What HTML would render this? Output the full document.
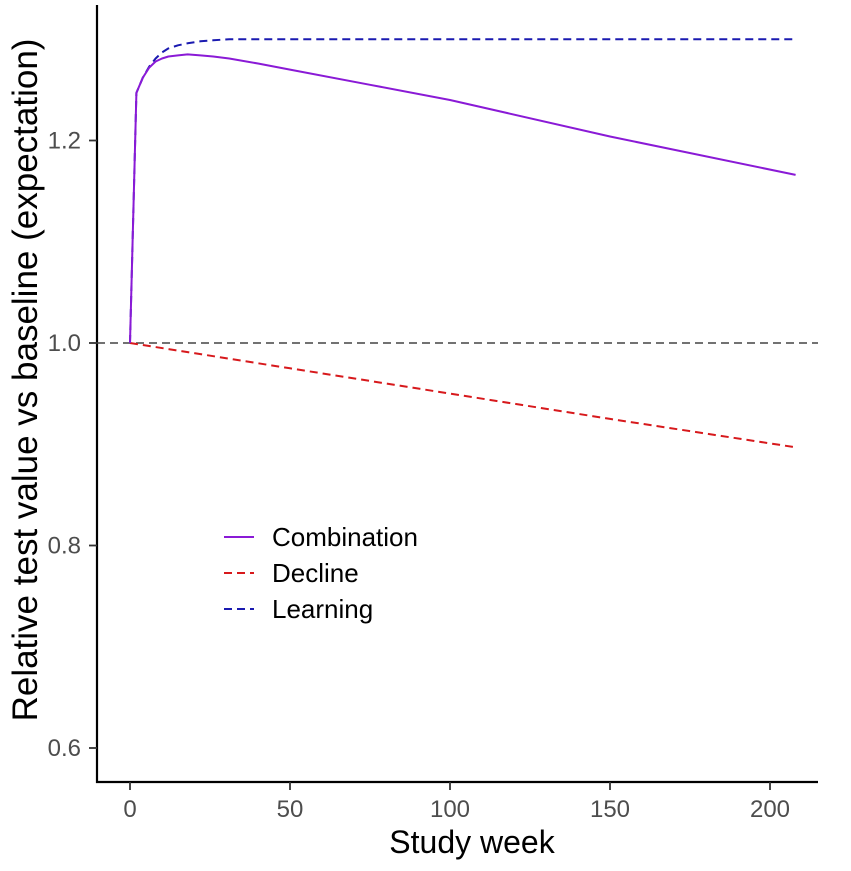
<!DOCTYPE html>
<html><head><meta charset="utf-8"><style>
body{margin:0;background:#fff;}
svg text{font-family:"Liberation Sans",Arial,sans-serif;}
</style></head><body>
<svg width="851" height="866" viewBox="0 0 851 866" id="chart">
<rect width="851" height="866" fill="#fff"/>
<g id="layer"></g>
</svg>
<script>
const learnWeeks=[0,2,4,6,8,10,12,15,18,22,26,31,40,50,100,150,208];
const learnVals=[1.0,1.247,1.262,1.273,1.281,1.287,1.291,1.294,1.296,1.298,1.299,1.3,1.3,1.3,1.3,1.3,1.3];
const combWeeks=[0,2,4,6,8,10,12,15,18,22,26,31,40,50,75,100,150,208];
const combVals=[1.0,1.247,1.262,1.272,1.278,1.281,1.283,1.284,1.285,1.284,1.283,1.281,1.276,1.27,1.255,1.24,1.204,1.166];
const declWeeks=[0,50,100,150,208];
const declVals=[1.0,0.975,0.95,0.925,0.897];
const xTicks=[0,50,100,150,200];
const yTicks=[0.6,0.8,1.0,1.2];
const yTickLabels=["0.6","0.8","1.0","1.2"];

const NS="http://www.w3.org/2000/svg";
const g=document.getElementById('layer');
const x=v=>130+v*3.2;
const y=v=>343-(v-1)*1012.5;
function el(t,a,txt){const e=document.createElementNS(NS,t);for(const k in a)e.setAttribute(k,a[k]);if(txt!=null)e.textContent=txt;g.appendChild(e);return e;}

let ax=el('line',{x1:97,y1:5,x2:97,y2:783,stroke:'#000','stroke-width':2.2});


ax=el('line',{x1:96,y1:782,x2:818,y2:782,stroke:'#000','stroke-width':2.2});



xTicks.forEach(t=>{
 const l=el('line',{x1:x(t),y1:782,x2:x(t),y2:790,stroke:'#333','stroke-width':1.8});
 
 
 const tx=el('text',{x:x(t),y:817,'font-size':24,fill:'#4d4d4d','text-anchor':'middle'},String(t));
 
 
});
yTicks.forEach((t,i)=>{
 const l=el('line',{x1:89,y1:y(t),x2:97,y2:y(t),stroke:'#333','stroke-width':1.8});
 
 
 const tx=el('text',{x:81,y:y(t)+8,'font-size':24,fill:'#4d4d4d','text-anchor':'end'},yTickLabels[i]);
 
 
});

let t=el('text',{x:472,y:853,'font-size':32,fill:'#000','text-anchor':'middle'},'Study week');


t=el('text',{x:0,y:0,'font-size':35,fill:'#000','text-anchor':'middle',transform:'translate(37,380) rotate(-90)'},'Relative test value vs baseline (expectation)');



let b=el('line',{x1:97,y1:y(1),x2:818,y2:y(1),stroke:'#444','stroke-width':1.6,'stroke-dasharray':'8,5'});



function series(ws,vs,color,dash,name){
 const d=ws.map((w,i)=>(i?'L':'M')+x(w).toFixed(1)+','+y(vs[i]).toFixed(1)).join(' ');
 const p=el('path',{d:d,fill:'none',stroke:color,'stroke-width':2,'stroke-dasharray':dash,'stroke-linejoin':'round'});
 
 
}
series(declWeeks,declVals,'#d7191c','8,5','decline-line');
series(learnWeeks,learnVals,'#1a1ab0','8,5','learning-line');
series(combWeeks,combVals,'#8a1ad6','none','combination-line');

const legNames=['Combination','Decline','Learning'];
const legColors=['#8a1ad6','#d7191c','#1a1ab0'];
const legDash=['none','8,5','8,5'];
legNames.forEach((n,i)=>{
 const yy=537+i*36;
 const l=el('line',{x1:224,y1:yy,x2:254,y2:yy,stroke:legColors[i],'stroke-width':2,'stroke-dasharray':legDash[i]});
 
 
 const tx=el('text',{x:272,y:yy+9,'font-size':26,fill:'#000'},n);
 
 
});
</script>
</body></html>
